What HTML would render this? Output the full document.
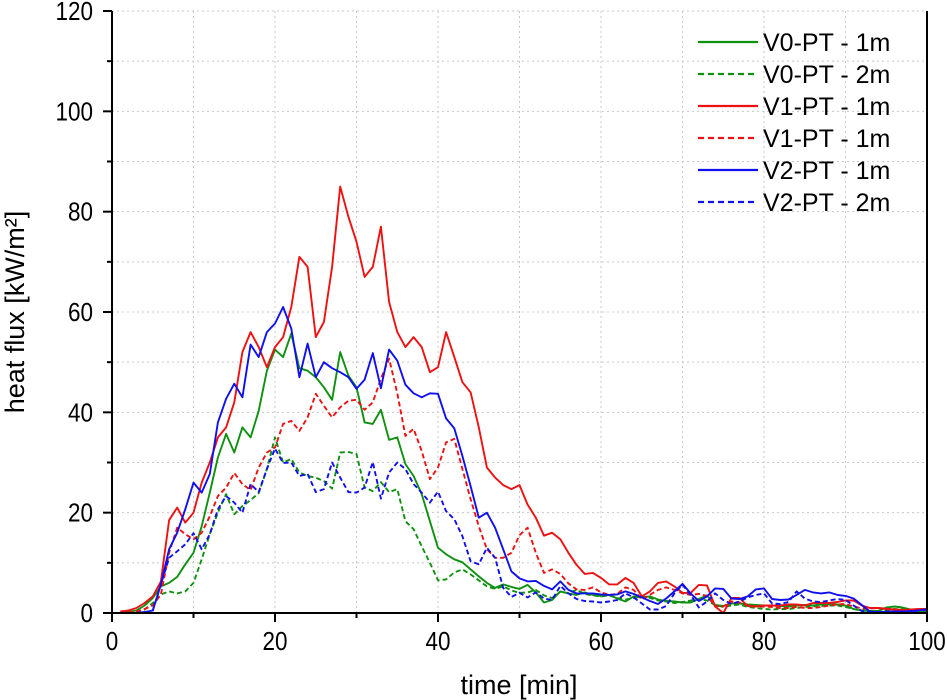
<!DOCTYPE html>
<html><head><meta charset="utf-8"><style>
html,body{margin:0;padding:0;background:#fff;}
svg{display:block;font-family:"Liberation Sans",Arial,sans-serif;}
</style></head><body>
<svg id="chart" width="947" height="700" xmlns="http://www.w3.org/2000/svg">
<g id="grid"></g>
<g id="series"></g>
<g id="axes"></g>
<g id="legend"></g>
<text x="519" y="694" font-size="27" text-anchor="middle">time [min]</text>
<text transform="translate(24,312) rotate(-90)" font-size="27" text-anchor="middle">heat flux [kW/m²]</text>
</svg>
<script>
const xTicks = [0,20,40,60,80,100];
const yTicks = [0,20,40,60,80,100,120];
const seriesNames = ["V0-PT - 1m","V0-PT - 2m","V1-PT - 1m","V1-PT - 1m","V2-PT - 1m","V2-PT - 2m"];
const seriesColors = ["#109010","#109010","#ee1111","#ee1111","#1010ee","#1010ee"];
const seriesDashed = [false,true,false,true,false,true];
const v0_1m = [0,0.2,0.5,1.5,3,5.3,6,7.2,9.7,12,17.3,24,31,35.7,32,37,35,40.3,48.3,52.5,51,55.7,48.8,48.3,47,45,42.5,52,47.3,45,38,37.7,40.5,34.5,35,29.7,27.3,23.7,18.3,13,11.7,10.7,10.1,8.7,7.3,6,5,5.7,5.2,4.8,5.6,4.1,2.1,2.6,4.3,3.9,3.6,4.1,3.6,3.4,3.6,2.9,2.3,3.3,3.1,3.3,2.7,2.4,2.3,2.1,2.1,2.8,3.5,1.6,1.4,1.9,1.9,1.7,1.6,1.5,1.5,1.4,1.3,1.5,1.6,1.5,1.7,1.8,1.7,1.5,0.8,0.5,0.4,0.4,1.1,1.3,1.1,0.7,0.3,0.4];
const v0_2m = [0,0,0.2,0.7,2,3.7,4.3,3.9,4.3,6,10.7,15.7,20,23.7,19.7,21.3,22.5,23.9,28.7,35,30,30.7,28,27.3,27,26.3,24.8,32,32.1,31.7,25,24.3,26.1,24.1,24.7,18.3,16.7,13.3,10,6.5,6.7,8.1,8.7,7.7,6.5,5.3,4.8,5.3,4.5,4,4.1,4.6,3.5,3,4.2,4,4.6,3.8,3.5,3.3,3.5,3,2.7,3,3.3,3,2.5,2.3,2,2.2,2.5,2.8,2.5,1.6,1.2,1.5,1.7,1.2,1,0.8,0.7,0.8,0.8,1,1.2,1.3,1.4,1.5,1.5,1.2,0.8,0.5,0.4,0.3,0.6,0.8,0.7,0.5,0.3,0.3];
const v1_1m = [0.3,0.5,1,2,3.3,6.3,18.5,21,18,20,26,30,35,37,42,52,56,53,49,53,55,61,71,69,55,58,69,85,79,74,67,69,77,62,56,53,55,53,48,49,56,51,46,44,37,29,27,25.5,24.7,25.5,21.6,19,15.4,16,14.7,12,9.6,7.8,8,7,5.7,5.7,7,6,3.3,4.3,6,6.3,5.3,4,4,5.6,5.5,1.3,0,3,3,1.4,1.3,1.5,1.5,1.5,1.7,1.7,1.5,2,2,2,2.2,2.5,2.5,1.5,1,1,0.8,0.7,0.6,0.7,0.8,0.8];
const v1_2m = [0,0.1,0.3,0.8,1.5,3.7,12,17,15.7,14.7,16,19.3,23.3,25,27.9,25.7,24.5,29,32,33,37.7,38.3,36.3,39,43.7,41.3,39,41,42.3,42.5,40.5,42,46.7,50.7,43.8,35.3,36.7,32.3,26.7,29,34,34.7,28.7,22.7,17.3,12.7,11,11,12,15.5,17,12,8,8.7,7.8,5.9,4.7,4.6,5.1,4.1,3.6,3.8,5.1,4.6,2.7,3.6,4.6,5.1,4.6,3.9,3.6,3.8,3.4,1.4,1.3,2.3,2.1,1.5,1.3,1.3,1.2,1,1,1.2,1,1,1.2,1.5,1.7,1.8,1.3,0.9,0.9,1,0.9,0.7,0.6,0.6,0.6,0.7];
const v2_1m = [0,0,0,0.2,0.5,5.7,12.7,16,20.7,26,24,27.7,38,42.7,45.7,43,53.5,51,56,57.7,61,56.7,47,53.7,47,50,48.8,48,47,44.7,46.5,51.8,44.8,52.5,50.3,45.5,43.8,43,43.8,43.7,38.8,36.8,31.3,25.3,19,20,17,12.7,8.3,6.9,6.3,6.4,5.4,4.7,6.3,4.6,3.9,3.9,3.9,3.7,3.6,3.7,4.3,3.8,3.1,2.4,1.8,2.9,4.3,5.8,3.9,2.4,3.3,4.9,4.8,2.9,2.8,3.3,4.7,4.9,2.8,2.6,2.7,3.6,4.6,4.1,3.9,4.1,3.6,3.4,2.9,1.6,0.3,0.1,0.3,0.3,0.3,0.3,0.5,0.8];
const v2_2m = [0,0,0,0.1,0.5,5.7,11,12.3,13.7,15.9,12.7,15.7,20.7,23.3,22,20,25.7,24.1,28.7,32.8,29.9,30,27.3,27.7,24.1,24.7,30,27,24.1,24,25,30.1,22.8,28,30,28.7,25.7,24,22,24.2,20.3,18.7,15.3,10.3,9.7,13,11,5,3.2,4,3.1,4.1,2.9,2.6,5.4,3.9,2.8,2.4,2.3,2.1,2.3,2.6,3.9,3.1,1.9,0.7,0.7,1.4,3.9,5.6,3.6,1.1,2.3,3.9,2.6,1.8,2.3,3.1,3.6,3.9,1.9,1.8,2.2,4.3,2.9,2.3,2.2,2.5,2.8,2.6,1.5,0.4,0.2,0.2,0.2,0.3,0.3,0.4,0.5,0.6];
const seriesData = [v0_1m, v0_2m, v1_1m, v1_2m, v2_1m, v2_2m];

const NS = "http://www.w3.org/2000/svg";
const X0 = 112, X1 = 927, Y0 = 613, Y1 = 11;
function xs(t){ return X0 + (X1 - X0) * t / 100; }
function ys(v){ return Y0 - (Y0 - Y1) * v / 120; }
function mk(tag, attrs, parent){ const e = document.createElementNS(NS, tag); for (const k in attrs) e.setAttribute(k, attrs[k]); parent.appendChild(e); return e; }

const grid = document.getElementById('grid');
for (let t = 10; t < 100; t += 10) {
  const l = mk('line', {x1: xs(t), x2: xs(t), y1: Y0, y2: Y1, stroke: '#c8c8c8', 'stroke-width': 1, 'stroke-dasharray': '2,3'}, grid);
  
  
}
for (let v = 10; v <= 120; v += 10) {
  const l = mk('line', {x1: X0, x2: X1, y1: ys(v), y2: ys(v), stroke: '#c8c8c8', 'stroke-width': 1, 'stroke-dasharray': '2,3'}, grid);
  
  
}

const sg = document.getElementById('series');
seriesData.forEach((arr, i) => {
  const pts = arr.map((v, j) => xs(j + 1).toFixed(1) + ',' + ys(v).toFixed(1)).join(' ');
  const p = mk('polyline', {points: pts, fill: 'none', stroke: seriesColors[i], 'stroke-width': 1.9, 'stroke-linejoin': 'round'}, sg);
  if (seriesDashed[i]) p.setAttribute('stroke-dasharray', '5,3');
  
  
});

const ax = document.getElementById('axes');
const bl = mk('path', {d: `M${X0},${Y1} V${Y0} H${X1} V${Y1}`, fill: 'none', stroke: '#000', 'stroke-width': 2}, ax);


for (let t = 0; t <= 100; t += 10) {
  const major = t % 20 === 0;
  const tk = mk('line', {x1: xs(t), x2: xs(t), y1: Y0, y2: Y0 + (major ? 9 : 5), stroke: '#000', 'stroke-width': 2}, ax);
  
  
}
xTicks.forEach(t => {
  const s = String(t);
  const tx = mk('text', {x: xs(t), y: Y0 + 37, 'font-size': 26, 'text-anchor': 'middle', textLength: 12.5 * s.length, lengthAdjust: 'spacingAndGlyphs'}, ax);
  tx.textContent = s;
  
  
});
for (let v = 0; v <= 120; v += 10) {
  const major = v % 20 === 0;
  const tk = mk('line', {x1: X0 - (major ? 9 : 5), x2: X0, y1: ys(v), y2: ys(v), stroke: '#000', 'stroke-width': 2}, ax);
  
  
}
yTicks.forEach(v => {
  const s = String(v);
  const tx = mk('text', {x: X0 - 19, y: ys(v) + 9, 'font-size': 26, 'text-anchor': 'end', textLength: 12.5 * s.length, lengthAdjust: 'spacingAndGlyphs'}, ax);
  tx.textContent = s;
  
  
});

const lg = document.getElementById('legend');
seriesNames.forEach((n, i) => {
  const y = 42 + i * 32;
  const g = mk('g', {}, lg);
  
  
  const l = mk('line', {x1: 698, x2: 758, y1: y, y2: y, stroke: seriesColors[i], 'stroke-width': 2.2}, g);
  if (seriesDashed[i]) l.setAttribute('stroke-dasharray', '6,4');
  const t = mk('text', {x: 763, y: y + 9, 'font-size': 25}, g);
  t.textContent = n;
});
</script>
</body></html>
